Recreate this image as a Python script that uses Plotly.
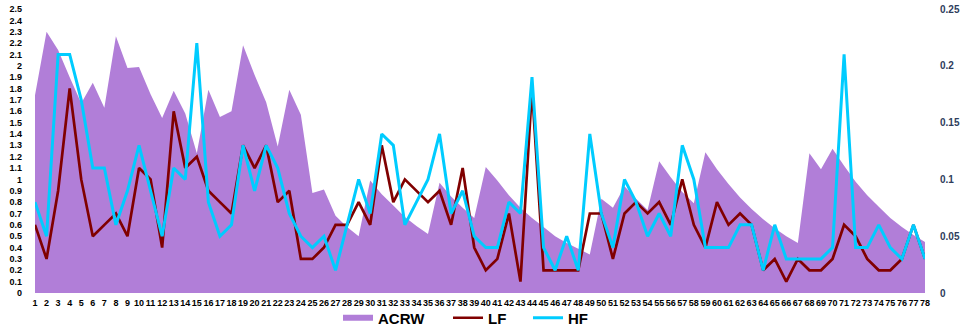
import plotly.graph_objects as go

categories = list(range(1, 79))
x_labels = [str(c) for c in categories]

acrw = [1.74, 2.30, 2.14, 1.90, 1.67, 1.85, 1.63, 2.26, 1.98, 1.99,
        1.75, 1.54, 1.78, 1.58, 1.23, 1.79, 1.55, 1.60, 2.18, 1.92,
        1.68, 1.29, 1.79, 1.57, 0.88, 0.91, 0.68, 0.58, 0.50, 0.99,
        0.87, 0.77, 0.67, 0.59, 0.52, 0.97, 0.85, 0.75, 0.66, 1.11,
        0.99, 0.86, 0.75, 0.66, 0.58, 0.50, 0.44, 0.39, 0.34, 0.83,
        0.75, 0.94, 0.83, 0.73, 1.16, 1.02, 0.89, 0.79, 1.24, 1.09,
        0.96, 0.84, 0.74, 0.65, 0.57, 0.50, 0.44, 1.23, 1.09, 1.27,
        1.12, 0.98, 0.86, 0.76, 0.66, 0.58, 0.51, 0.45]

lf = [0.06, 0.03, 0.09, 0.18, 0.10, 0.05, 0.06, 0.07, 0.05, 0.11,
      0.10, 0.04, 0.16, 0.11, 0.12, 0.09, 0.08, 0.07, 0.13, 0.11,
      0.13, 0.08, 0.09, 0.03, 0.03, 0.04, 0.06, 0.06, 0.08, 0.06,
      0.13, 0.08, 0.10, 0.09, 0.08, 0.09, 0.06, 0.11, 0.04, 0.02,
      0.03, 0.07, 0.01, 0.18, 0.02, 0.02, 0.02, 0.02, 0.07, 0.07,
      0.03, 0.07, 0.08, 0.07, 0.08, 0.06, 0.10, 0.06, 0.04, 0.08,
      0.06, 0.07, 0.06, 0.02, 0.03, 0.01, 0.03, 0.02, 0.02, 0.03,
      0.06, 0.05, 0.03, 0.02, 0.02, 0.03, 0.06, 0.03]

hf = [0.08, 0.05, 0.21, 0.21, 0.17, 0.11, 0.11, 0.06, 0.09, 0.13,
      0.09, 0.05, 0.11, 0.10, 0.22, 0.08, 0.05, 0.06, 0.13, 0.09,
      0.13, 0.11, 0.07, 0.05, 0.04, 0.05, 0.02, 0.06, 0.10, 0.07,
      0.14, 0.13, 0.06, 0.08, 0.10, 0.14, 0.07, 0.09, 0.05, 0.04,
      0.04, 0.08, 0.07, 0.19, 0.04, 0.02, 0.05, 0.02, 0.14, 0.07,
      0.04, 0.10, 0.08, 0.05, 0.07, 0.05, 0.13, 0.10, 0.04, 0.04,
      0.04, 0.06, 0.06, 0.02, 0.06, 0.03, 0.03, 0.03, 0.03, 0.04,
      0.21, 0.04, 0.04, 0.06, 0.04, 0.03, 0.06, 0.03]

left_ticks = [round(i * 0.1, 1) for i in range(26)]
left_tick_text = [("%g" % v) for v in left_ticks]
right_ticks = [0, 0.05, 0.1, 0.15, 0.2, 0.25]
right_tick_text = ["0", "0.05", "0.1", "0.15", "0.2", "0.25"]

FONT = "Liberation Sans, Arial, sans-serif"

# plot area in pixels
L, R, T, B = 35, 41, 9, 36
PW, PH = 966 - L - R, 329 - T - B

fig = go.Figure()
fig.add_trace(go.Scatter(x=categories, y=acrw, name="ACRW", mode="none",
                         fill="tozeroy", fillcolor="#B17ED8", legend="legend"))
fig.add_trace(go.Scatter(x=categories, y=lf, name="LF", mode="lines", yaxis="y2",
                         line=dict(color="#800000", width=2.7), legend="legend2"))
fig.add_trace(go.Scatter(x=categories, y=hf, name="HF", mode="lines", yaxis="y2",
                         line=dict(color="#00CCFF", width=3), legend="legend3"))

legend_common = dict(orientation="h", xref="paper", yref="paper",
                     yanchor="middle", y=-(318 - (329 - B)) / PH,
                     xanchor="left", bgcolor="rgba(0,0,0,0)", borderwidth=0,
                     font=dict(family=FONT, size=15, color="#000000", weight="bold"))

def lx(px):
    return (px - L) / PW

fig.update_layout(
    width=966, height=329,
    showlegend=True,
    margin=dict(l=L, r=R, t=T, b=B, autoexpand=False),
    paper_bgcolor="white", plot_bgcolor="white",
    font=dict(family=FONT),
    xaxis=dict(range=[1, 78], tickvals=categories, ticktext=x_labels, tickangle=0,
               showgrid=False, zeroline=False, showline=False, ticks="", ticklen=0,
               ticklabelstandoff=3, automargin=False,
               tickfont=dict(family=FONT, size=9, color="#000000", weight="bold")),
    yaxis=dict(range=[0, 2.5], tickvals=left_ticks, ticktext=left_tick_text,
               showgrid=False, zeroline=False, showline=False, ticks="", ticklen=0,
               ticklabelstandoff=12, automargin=False,
               tickfont=dict(family=FONT, size=9, color="#000000", weight="bold")),
    yaxis2=dict(range=[0, 0.25], tickvals=right_ticks, ticktext=right_tick_text,
                overlaying="y", side="right", showgrid=False, zeroline=False,
                showline=False, ticks="", ticklen=0, ticklabelstandoff=14,
                automargin=False,
                tickfont=dict(family=FONT, size=10, color="#2E3D5C", weight="bold")),
    legend=dict(x=lx(338), **legend_common),
    legend2=dict(x=lx(448), **legend_common),
    legend3=dict(x=lx(528), **legend_common),
)

fig.write_html("out.html", config={"displayModeBar": False},
               post_script="document.body.style.margin='0';document.body.style.padding='0';")
